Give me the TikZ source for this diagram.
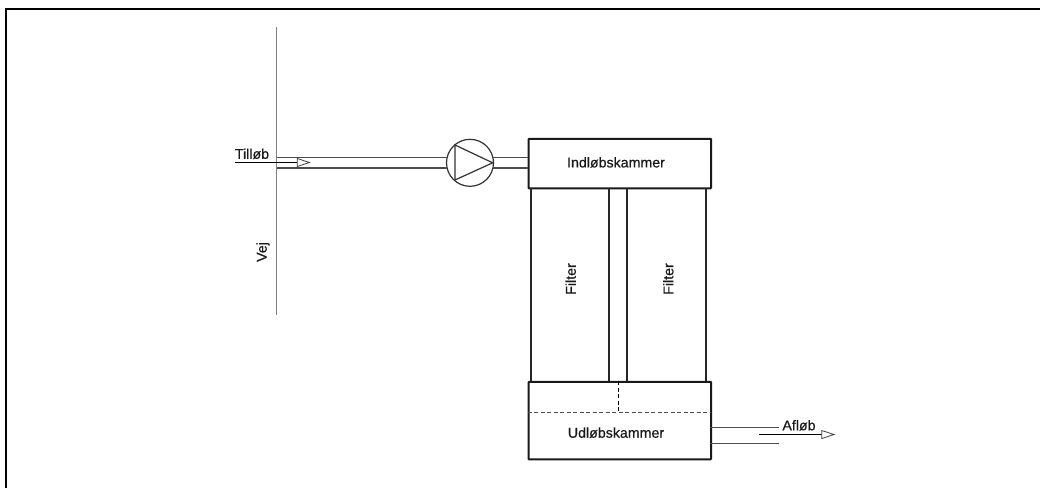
\documentclass[tikz,border=0pt]{standalone}
\usepackage{fontspec}
\setmainfont{Liberation Sans}
\newfontfamily\labfont[FakeBold=0.4]{Liberation Sans}
\tikzset{
  frameline/.style={line width=2pt,black},
  chamber/.style={draw=black!90,line width=2pt,rounded corners=0.6pt,inner sep=0pt,anchor=north west},
  wall/.style={draw=black!85,line width=2.2pt},
  pipe/.style={draw=black!70,line width=1.4pt},
  road/.style={draw=black!50,line width=1.4pt},
  flowline/.style={draw=black,line width=0.9pt},
  openhead/.style={draw=black!75,line width=0.8pt,fill=white},
  label/.style={font=\labfont\fontsize{14.2}{16}\selectfont,text=black!90,inner sep=0pt},
  pumpc/.style={circle,draw=black!80,line width=1.2pt,minimum size=47pt,inner sep=0pt},
}
\begin{document}
\begin{tikzpicture}[x=1pt,y=-1pt]
\useasboundingbox (0,0) rectangle (1040,488);
\fill[white] (0,0) rectangle (1040,488);
% frame
\coordinate (fa) at (6,488);
\coordinate (fb) at (6,9);
\coordinate (fc) at (1040,9);
\draw[frameline] (fa) -- (fb) -- (fc);
% road
\coordinate (r1) at (276.5,27);
\coordinate (r2) at (276.5,315);
\draw[road] (r1) -- (r2);
\node[label,rotate=90] (vej) at (263,252) {Vej};
% chambers
\node[chamber,minimum width=182.5pt,minimum height=49.5pt] (ind) at (527.5,137.8) {};
\node[label] (indt) at (616,162.4) {Indløbskammer};
\node[chamber,minimum width=182.5pt,minimum height=77.5pt] (ud) at (527.5,380.8) {};
\node[label] (udt) at (616,432.7) {Udløbskammer};
% filter walls
\foreach \n/\x in {a/531,b/609,c/627.3,d/705.6}{
  \coordinate (t\n) at (\x,187.5);
  \coordinate (b\n) at (\x,380.8);
  \draw[wall] (t\n) -- (b\n);
}
\node[label,rotate=90] (f1) at (570.7,279) {Filter};
\node[label,rotate=90] (f2) at (668.3,279) {Filter};
% dashed water level
\coordinate (d1) at (527.5,412);
\coordinate (d2) at (710,412);
\coordinate (d3) at (618.5,381);
\coordinate (d4) at (618.5,412);
\draw[black!70,line width=0.9pt,dash pattern=on 4pt off 2.5pt] (d1) -- (d2);
\draw[black,line width=0.9pt,dash pattern=on 4pt off 2.5pt] (d3) -- (d4);
% pump
\node[pumpc] (pump) at (470,162.8) {};
\coordinate (p1) at (455,145);
\coordinate (p2) at (455,180);
\coordinate (p3) at (492.7,162.8);
\draw[black!80,line width=1.2pt,line join=miter] (p1) -- (p2) -- (p3) -- cycle;
% inlet pipes
\coordinate (i1) at (276.5,157.5);
\coordinate (i2) at (276.5,168);
\coordinate (i3) at (447.2,157.5);
\coordinate (i4) at (447.2,168);
\coordinate (i5) at (492.5,157.5);
\coordinate (i6) at (492.5,168);
\coordinate (i7) at (527.5,157.5);
\coordinate (i8) at (527.5,168);
\draw[pipe] (i1) -- (i3);
\draw[pipe] (i2) -- (i4);
\draw[pipe] (i5) -- (i7);
\draw[pipe] (i6) -- (i8);
% inlet arrow
\coordinate (ta) at (235,162.5);
\coordinate (tb) at (297.3,162.5);
\draw[flowline] (ta) -- (tb);
\draw[openhead] (297.3,158.5) -- (309.3,162.5) -- (297.3,166.5) -- cycle;
\node[label] (till) at (252,153.8) {Tilløb};
% outlet pipes
\coordinate (o1) at (710,427.5);
\coordinate (o2) at (779,427.5);
\coordinate (o3) at (710,443.5);
\coordinate (o4) at (779,443.5);
\draw[pipe] (o1) -- (o2);
\draw[pipe] (o3) -- (o4);
% outlet arrow
\coordinate (oa) at (759.3,434.5);
\coordinate (ob) at (821.7,434.5);
\draw[flowline] (oa) -- (ob);
\draw[openhead] (821.7,430.5) -- (834,434.5) -- (821.7,438.5) -- cycle;
\node[label] (afl) at (799,425.3) {Afløb};
\end{tikzpicture}
\end{document}
